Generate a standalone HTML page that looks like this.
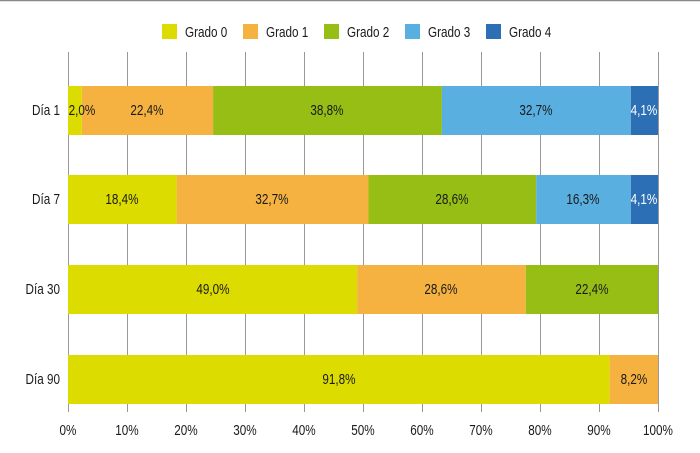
<!DOCTYPE html><html><head><meta charset="utf-8"><style>body{margin:0;background:#fff}svg{display:block}text{font-family:"Liberation Sans",sans-serif;font-size:15px;fill:#1a1a1a}</style></head><body>
<svg width="700" height="453" xmlns="http://www.w3.org/2000/svg">
<line x1="0" y1="0.5" x2="700" y2="0.5" stroke="#888" stroke-width="1.5"/>
<g stroke="#999" stroke-width="1">
<line x1="68.5" y1="52" x2="68.5" y2="412"/><line x1="127.5" y1="52" x2="127.5" y2="412"/><line x1="186.5" y1="52" x2="186.5" y2="412"/><line x1="245.5" y1="52" x2="245.5" y2="412"/><line x1="304.5" y1="52" x2="304.5" y2="412"/><line x1="363.5" y1="52" x2="363.5" y2="412"/><line x1="422.5" y1="52" x2="422.5" y2="412"/><line x1="481.5" y1="52" x2="481.5" y2="412"/><line x1="540.5" y1="52" x2="540.5" y2="412"/><line x1="599.5" y1="52" x2="599.5" y2="412"/><line x1="658.5" y1="52" x2="658.5" y2="412"/>
</g>
<rect x="162" y="24" width="15" height="15" fill="#dcdc00"/><text transform="translate(185,37) scale(0.78,1)">Grado 0</text>
<rect x="243" y="24" width="15" height="15" fill="#f5b240"/><text transform="translate(266,37) scale(0.78,1)">Grado 1</text>
<rect x="324" y="24" width="15" height="15" fill="#96be14"/><text transform="translate(347,37) scale(0.78,1)">Grado 2</text>
<rect x="405" y="24" width="15" height="15" fill="#5aafe1"/><text transform="translate(428,37) scale(0.78,1)">Grado 3</text>
<rect x="486" y="24" width="15" height="15" fill="#2d6fb5"/><text transform="translate(509,37) scale(0.78,1)">Grado 4</text>
<g text-anchor="middle">
<rect x="68" y="86" width="13.8" height="49" fill="#dcdc00"/>
<rect x="81.8" y="86" width="131.3" height="49" fill="#f5b240"/>
<rect x="213.1" y="86" width="228.8" height="49" fill="#96be14"/>
<rect x="441.9" y="86" width="188.9" height="49" fill="#5aafe1"/>
<rect x="630.8" y="86" width="27.2" height="49" fill="#2d6fb5"/>
<text transform="translate(82,115) scale(0.78,1)">2,0%</text>
<text transform="translate(147,115) scale(0.78,1)">22,4%</text>
<text transform="translate(327,115) scale(0.78,1)">38,8%</text>
<text transform="translate(536,115) scale(0.78,1)">32,7%</text>
<text transform="translate(644,115) scale(0.78,1)" style="fill:#fff">4,1%</text>
<text transform="translate(60,115) scale(0.78,1)" text-anchor="end">Día 1</text>

<rect x="68" y="175" width="108.6" height="49" fill="#dcdc00"/>
<rect x="176.6" y="175" width="191.9" height="49" fill="#f5b240"/>
<rect x="368.5" y="175" width="167.7" height="49" fill="#96be14"/>
<rect x="536.2" y="175" width="94.6" height="49" fill="#5aafe1"/>
<rect x="630.8" y="175" width="27.2" height="49" fill="#2d6fb5"/>
<text transform="translate(122,204) scale(0.78,1)">18,4%</text>
<text transform="translate(272,204) scale(0.78,1)">32,7%</text>
<text transform="translate(452,204) scale(0.78,1)">28,6%</text>
<text transform="translate(583,204) scale(0.78,1)">16,3%</text>
<text transform="translate(644,204) scale(0.78,1)" style="fill:#fff">4,1%</text>
<text transform="translate(60,204) scale(0.78,1)" text-anchor="end">Día 7</text>

<rect x="68" y="265" width="289.1" height="49" fill="#dcdc00"/>
<rect x="357.1" y="265" width="168.7" height="49" fill="#f5b240"/>
<rect x="525.8" y="265" width="132.2" height="49" fill="#96be14"/>
<text transform="translate(213,294) scale(0.78,1)">49,0%</text>
<text transform="translate(441,294) scale(0.78,1)">28,6%</text>
<text transform="translate(592,294) scale(0.78,1)">22,4%</text>
<text transform="translate(60,294) scale(0.78,1)" text-anchor="end">Día 30</text>

<rect x="68" y="355" width="541.6" height="49" fill="#dcdc00"/>
<rect x="609.6" y="355" width="48.4" height="49" fill="#f5b240"/>
<text transform="translate(339,384) scale(0.78,1)">91,8%</text>
<text transform="translate(634,384) scale(0.78,1)">8,2%</text>
<text transform="translate(60,384) scale(0.78,1)" text-anchor="end">Día 90</text>

<text transform="translate(68,435) scale(0.78,1)">0%</text><text transform="translate(127,435) scale(0.78,1)">10%</text><text transform="translate(186,435) scale(0.78,1)">20%</text><text transform="translate(245,435) scale(0.78,1)">30%</text><text transform="translate(304,435) scale(0.78,1)">40%</text><text transform="translate(363,435) scale(0.78,1)">50%</text><text transform="translate(422,435) scale(0.78,1)">60%</text><text transform="translate(481,435) scale(0.78,1)">70%</text><text transform="translate(540,435) scale(0.78,1)">80%</text><text transform="translate(599,435) scale(0.78,1)">90%</text><text transform="translate(658,435) scale(0.78,1)">100%</text>
</g>
</svg></body></html>
